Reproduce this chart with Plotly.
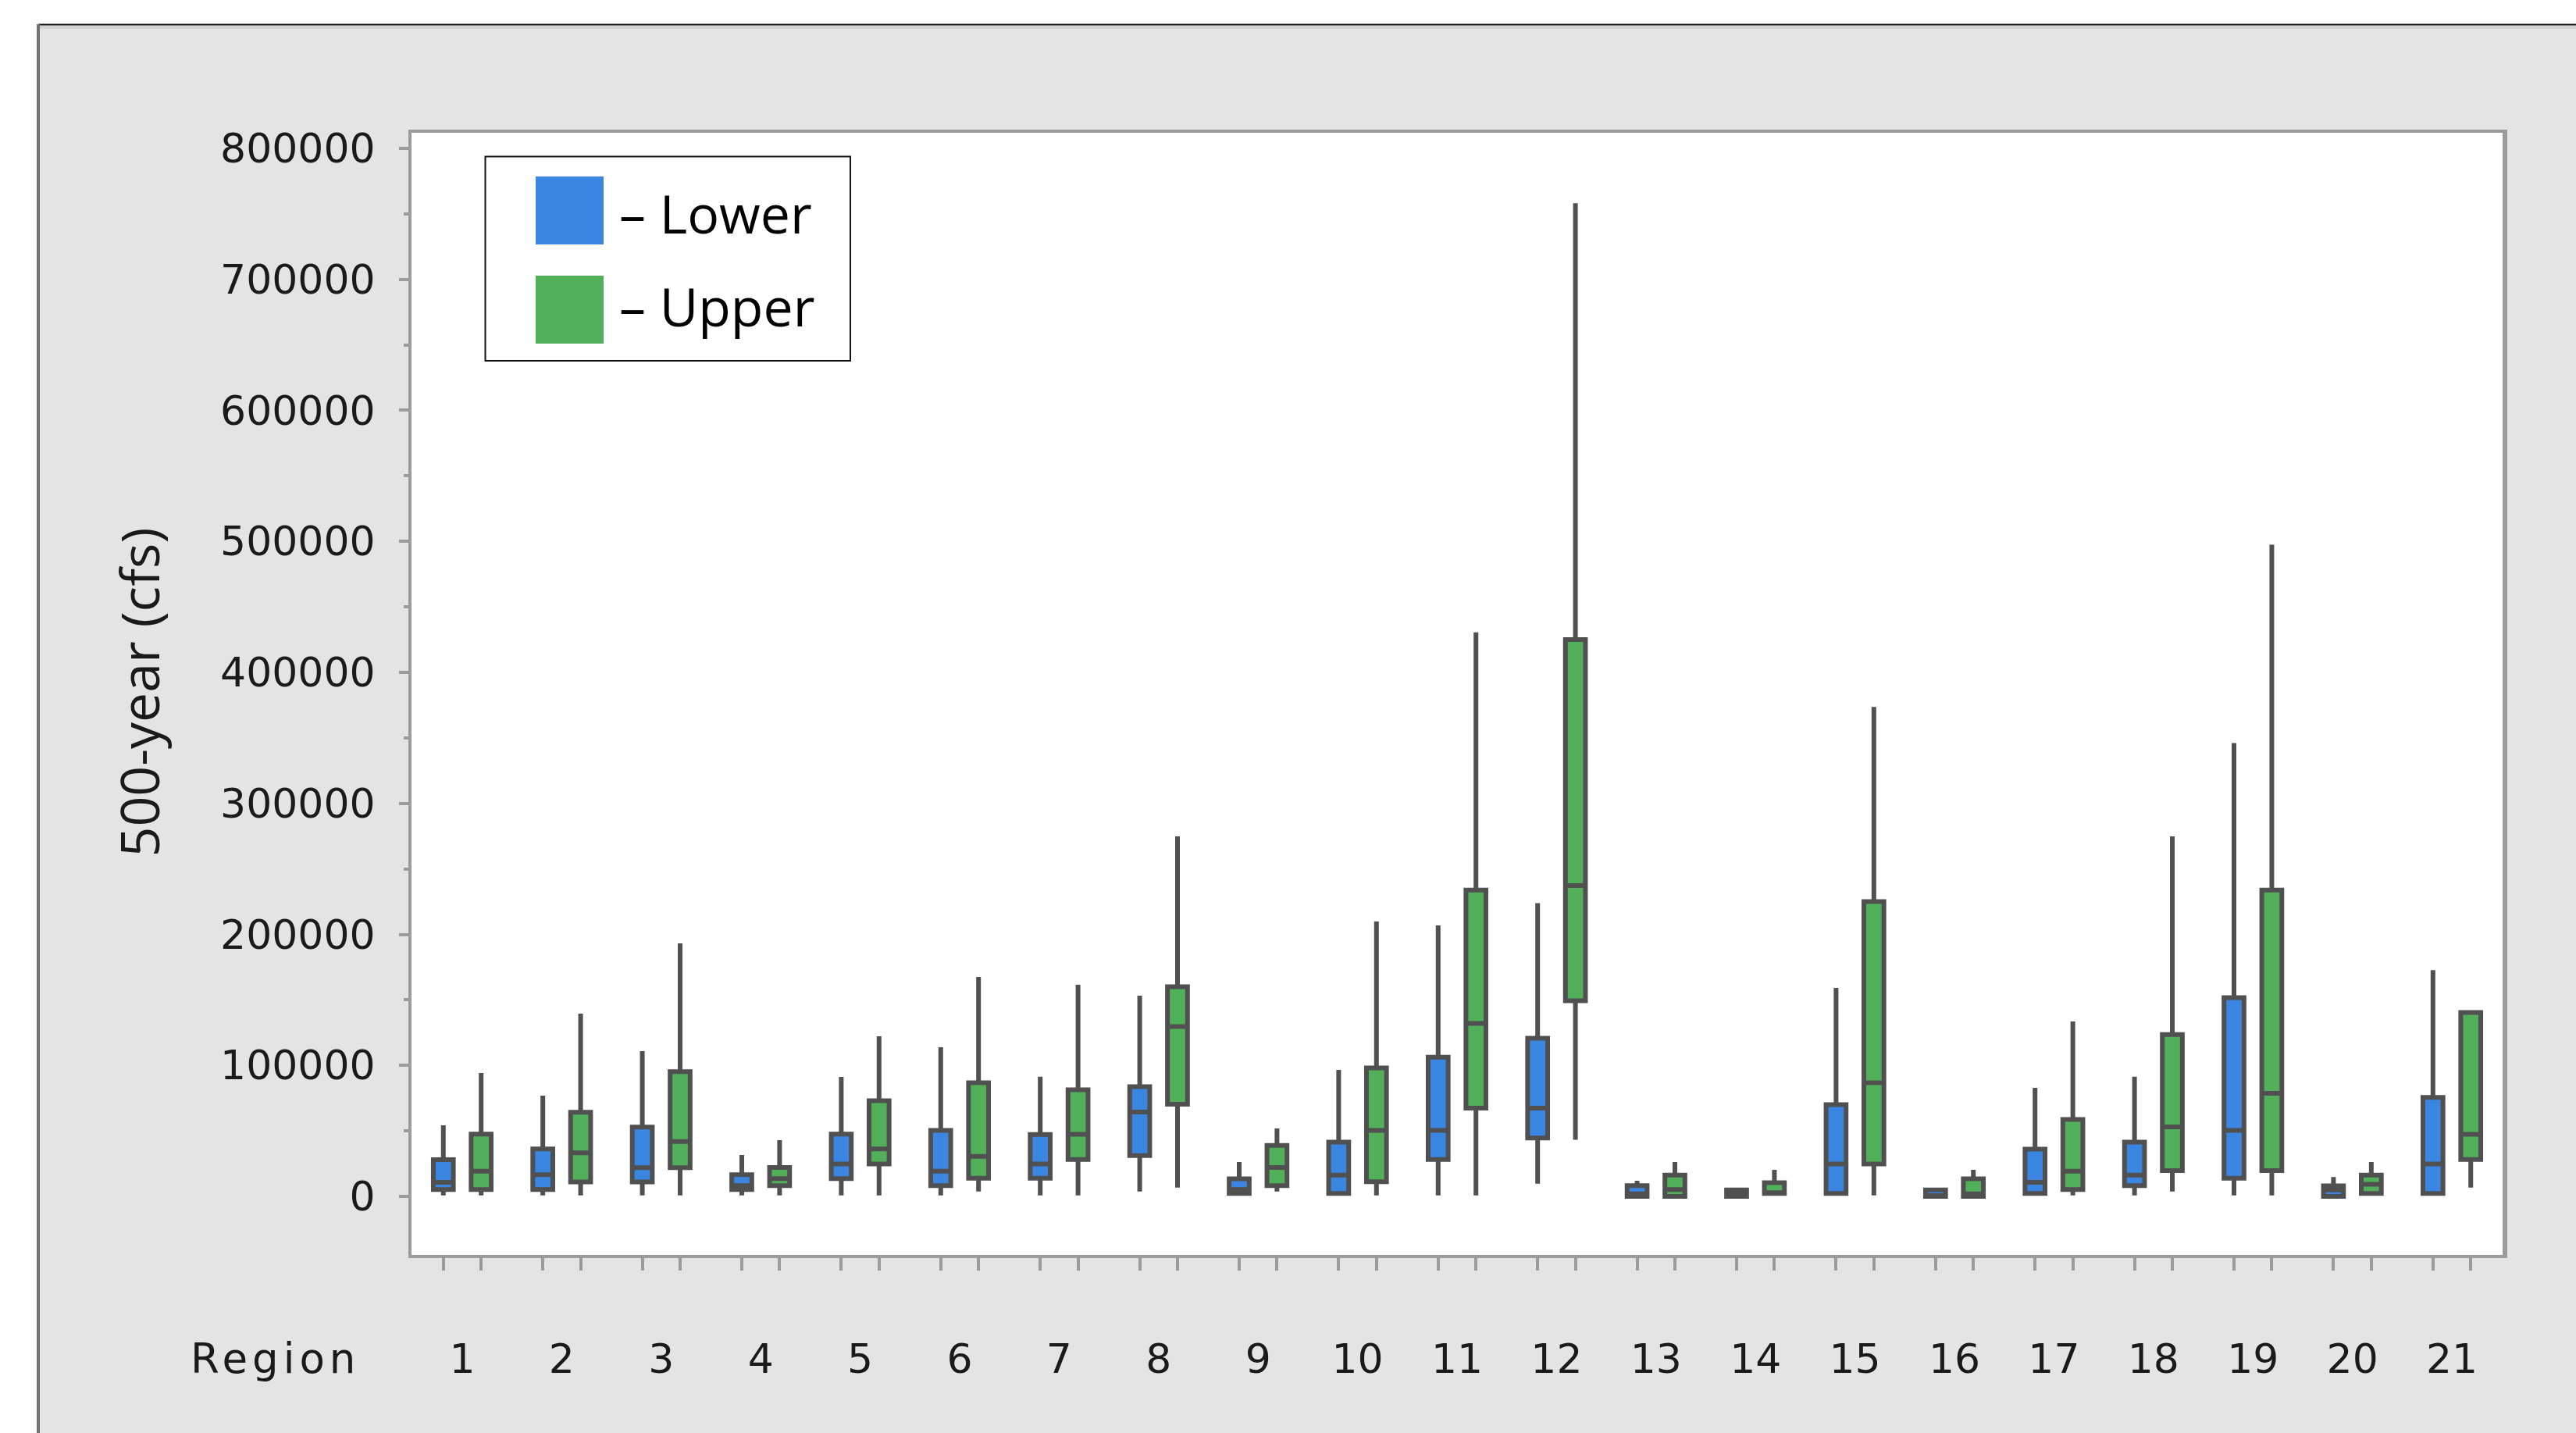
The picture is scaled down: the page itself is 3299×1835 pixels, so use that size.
import plotly.graph_objects as go

# ---- data: 500-year flow statistics (cfs) by region ----
regions = list(range(1, 22))
region_labels = [str(r) for r in regions]

# Lower group
lower_lo  = [800, 800, 800, 800, 800, 800, 800, 3800, 2300, 800, 800,
             9700, 0, 0, 800, 0, 2300, 800, 800, 0, 2300]
lower_q1  = [5200, 5200, 11100, 5200, 13500, 8200, 13800, 31200, 2300, 2300, 28200,
             44600, 0, 0, 2300, 0, 2300, 8200, 13800, 0, 2300]
lower_med = [10700, 16500, 21900, 8200, 24800, 19300, 24800, 64400, 5200, 16300, 50400,
             67400, 2000, 2500, 24800, 0, 10800, 16300, 50400, 5000, 24800]
lower_q3  = [28000, 36200, 52900, 16500, 47500, 50400, 47200, 83800, 13400, 41400, 106300,
             120700, 8200, 5000, 70000, 5000, 36100, 41400, 151700, 8000, 75500]
lower_hi  = [54200, 76900, 110900, 31600, 91200, 113900, 91300, 153200, 26300, 96600, 206800,
             223900, 11900, 5000, 159100, 5000, 82900, 91300, 346100, 14800, 172800]

# Upper group
upper_lo  = [800, 800, 800, 800, 800, 3800, 800, 6700, 3800, 800, 800,
             43200, 0, 2300, 800, 0, 800, 3800, 800, 2300, 6700]
upper_q1  = [5200, 11100, 21900, 8200, 24800, 13800, 28200, 70400, 8200, 11200, 67400,
             149400, 0, 2300, 24800, 0, 5200, 19700, 19700, 2300, 28200]
upper_med = [19300, 33200, 41900, 13500, 36200, 30600, 47400, 129600, 22100, 50400, 132100,
             237200, 5200, 2300, 86800, 2000, 19300, 53100, 78700, 9300, 47400]
upper_q3  = [47500, 64200, 95200, 22000, 73100, 86800, 81400, 160000, 38900, 98100, 233900,
             425100, 16300, 10400, 225000, 13400, 58700, 123600, 233900, 16300, 140400]
upper_hi  = [94200, 139500, 193100, 42900, 122200, 167500, 161500, 274800, 51900, 209800, 430600,
             758100, 26300, 20300, 373600, 20300, 133600, 274800, 497400, 26300, 140400]

y_ticks = list(range(0, 800001, 100000))

# ---- styling ----
BLUE = "#3A86E0"
GREEN = "#52B05B"
EDGE = "#505050"
AXIS = "#9B9B9B"
PANEL = "#E4E4E4"
TEXT = "#1A1A1A"

W, H = 3299, 1835
L, R, T, B = 527, 94, 170, 228
PW, PH = W - L - R, H - T - B

BOXGAP = 0.24
BOXGROUPGAP = 0.47
OFFSET = 0.25 * (1 - BOXGAP)          # centre offset of each box within a region


def fx(px):
    """pixel column -> paper x"""
    return (px - L) / PW


def fy(py):
    """pixel row -> paper y"""
    return (H - B - py) / PH


fig = go.Figure()
for name, color, lo, q1, med, q3, hi in [
    ("Lower", BLUE, lower_lo, lower_q1, lower_med, lower_q3, lower_hi),
    ("Upper", GREEN, upper_lo, upper_q1, upper_med, upper_q3, upper_hi),
]:
    fig.add_trace(go.Box(
        x=regions, lowerfence=lo, q1=q1, median=med, q3=q3, upperfence=hi,
        name=name, fillcolor=color, line=dict(color=EDGE, width=6),
        whiskerwidth=0, boxpoints=False, showlegend=False, hoverinfo="skip",
    ))

box_ticks = sorted([r - OFFSET for r in regions] + [r + OFFSET for r in regions])
tick_font = dict(family="DejaVu Sans", size=52, color=TEXT)

fig.update_layout(
    width=W, height=H,
    margin=dict(l=L, r=R, t=T, b=B, pad=0),
    paper_bgcolor=PANEL, plot_bgcolor="white",
    boxmode="group", boxgap=BOXGAP, boxgroupgap=BOXGROUPGAP,
    showlegend=False,
    xaxis=dict(
        range=[0.49, 21.51], tickmode="array", tickvals=regions, ticktext=region_labels,
        ticks="outside", ticklen=16, tickwidth=4, tickcolor="rgba(0,0,0,0)",
        ticklabelstandoff=69, tickfont=tick_font,
        minor=dict(tickmode="array", tickvals=box_ticks, ticks="outside",
                   ticklen=16, tickwidth=4, tickcolor=AXIS),
        showline=True, linewidth=4, linecolor=AXIS, mirror=True,
        showgrid=False, zeroline=False,
    ),
    yaxis=dict(
        range=[-44700, 811900], tickmode="array", tickvals=y_ticks,
        ticktext=[str(v) for v in y_ticks],
        ticks="outside", ticklen=12, tickwidth=4, tickcolor=AXIS,
        ticklabelstandoff=20, tickfont=tick_font,
        minor=dict(tick0=0, dtick=50000, ticks="outside", ticklen=6,
                   tickwidth=4, tickcolor=AXIS),
        showline=True, linewidth=4, linecolor=AXIS, mirror=True,
        showgrid=False, zeroline=False,
    ),
)

shapes = [
    # white margin above and left of the grey panel
    dict(type="rect", xref="paper", yref="paper", x0=fx(-20), x1=fx(W + 20),
         y0=fy(31), y1=fy(-20), fillcolor="white", line=dict(width=0)),
    dict(type="rect", xref="paper", yref="paper", x0=fx(-20), x1=fx(49),
         y0=fy(H + 20), y1=fy(31), fillcolor="white", line=dict(width=0)),
    # panel frame
    dict(type="line", xref="paper", yref="paper", x0=fx(49), x1=fx(W + 20),
         y0=fy(35), y1=fy(35), line=dict(color="#D3D3D3", width=4)),
    dict(type="line", xref="paper", yref="paper", x0=fx(49), x1=fx(W + 20),
         y0=fy(31.5), y1=fy(31.5), line=dict(color="#111111", width=2)),
    dict(type="line", xref="paper", yref="paper", x0=fx(49), x1=fx(49),
         y0=fy(31), y1=fy(H + 20), line=dict(color="#707070", width=4)),
    # heavier right edge of the plot frame
    dict(type="line", xref="paper", yref="paper", x0=fx(3209), x1=fx(3209),
         y0=fy(1611), y1=fy(166), line=dict(color=AXIS, width=4)),
    # legend box and swatches
    dict(type="rect", xref="paper", yref="paper", x0=fx(621.5), x1=fx(1089),
         y0=fy(462), y1=fy(200.5), fillcolor="white", line=dict(color="#111111", width=2),
         layer="above"),
    dict(type="rect", xref="paper", yref="paper", x0=fx(686), x1=fx(773),
         y0=fy(313), y1=fy(226), fillcolor=BLUE, line=dict(width=0), layer="above"),
    dict(type="rect", xref="paper", yref="paper", x0=fx(686), x1=fx(773),
         y0=fy(440), y1=fy(353), fillcolor=GREEN, line=dict(width=0), layer="above"),
]

legend_font = dict(family="Open Sans", size=68, color="#000000")
annotations = [
    dict(text="– Lower", x=fx(791), y=fy(272), xref="paper", yref="paper",
         xanchor="left", yanchor="middle", showarrow=False, font=legend_font),
    dict(text="– Upper", x=fx(791), y=fy(391), xref="paper", yref="paper",
         xanchor="left", yanchor="middle", showarrow=False, font=legend_font),
    dict(text="500-year (cfs)", x=fx(177), y=fy(886.5), xref="paper", yref="paper",
         xanchor="center", yanchor="middle", textangle=-90, showarrow=False,
         font=dict(family="Open Sans", size=68, color=TEXT)),
    dict(text='<span style="letter-spacing:6px">Region</span>',
         x=fx(352), y=fy(1739), xref="paper", yref="paper",
         xanchor="center", yanchor="middle", showarrow=False,
         font=dict(family="DejaVu Sans", size=53, color=TEXT)),
]

fig.update_layout(shapes=shapes, annotations=annotations)
fig.write_html("out.html")
